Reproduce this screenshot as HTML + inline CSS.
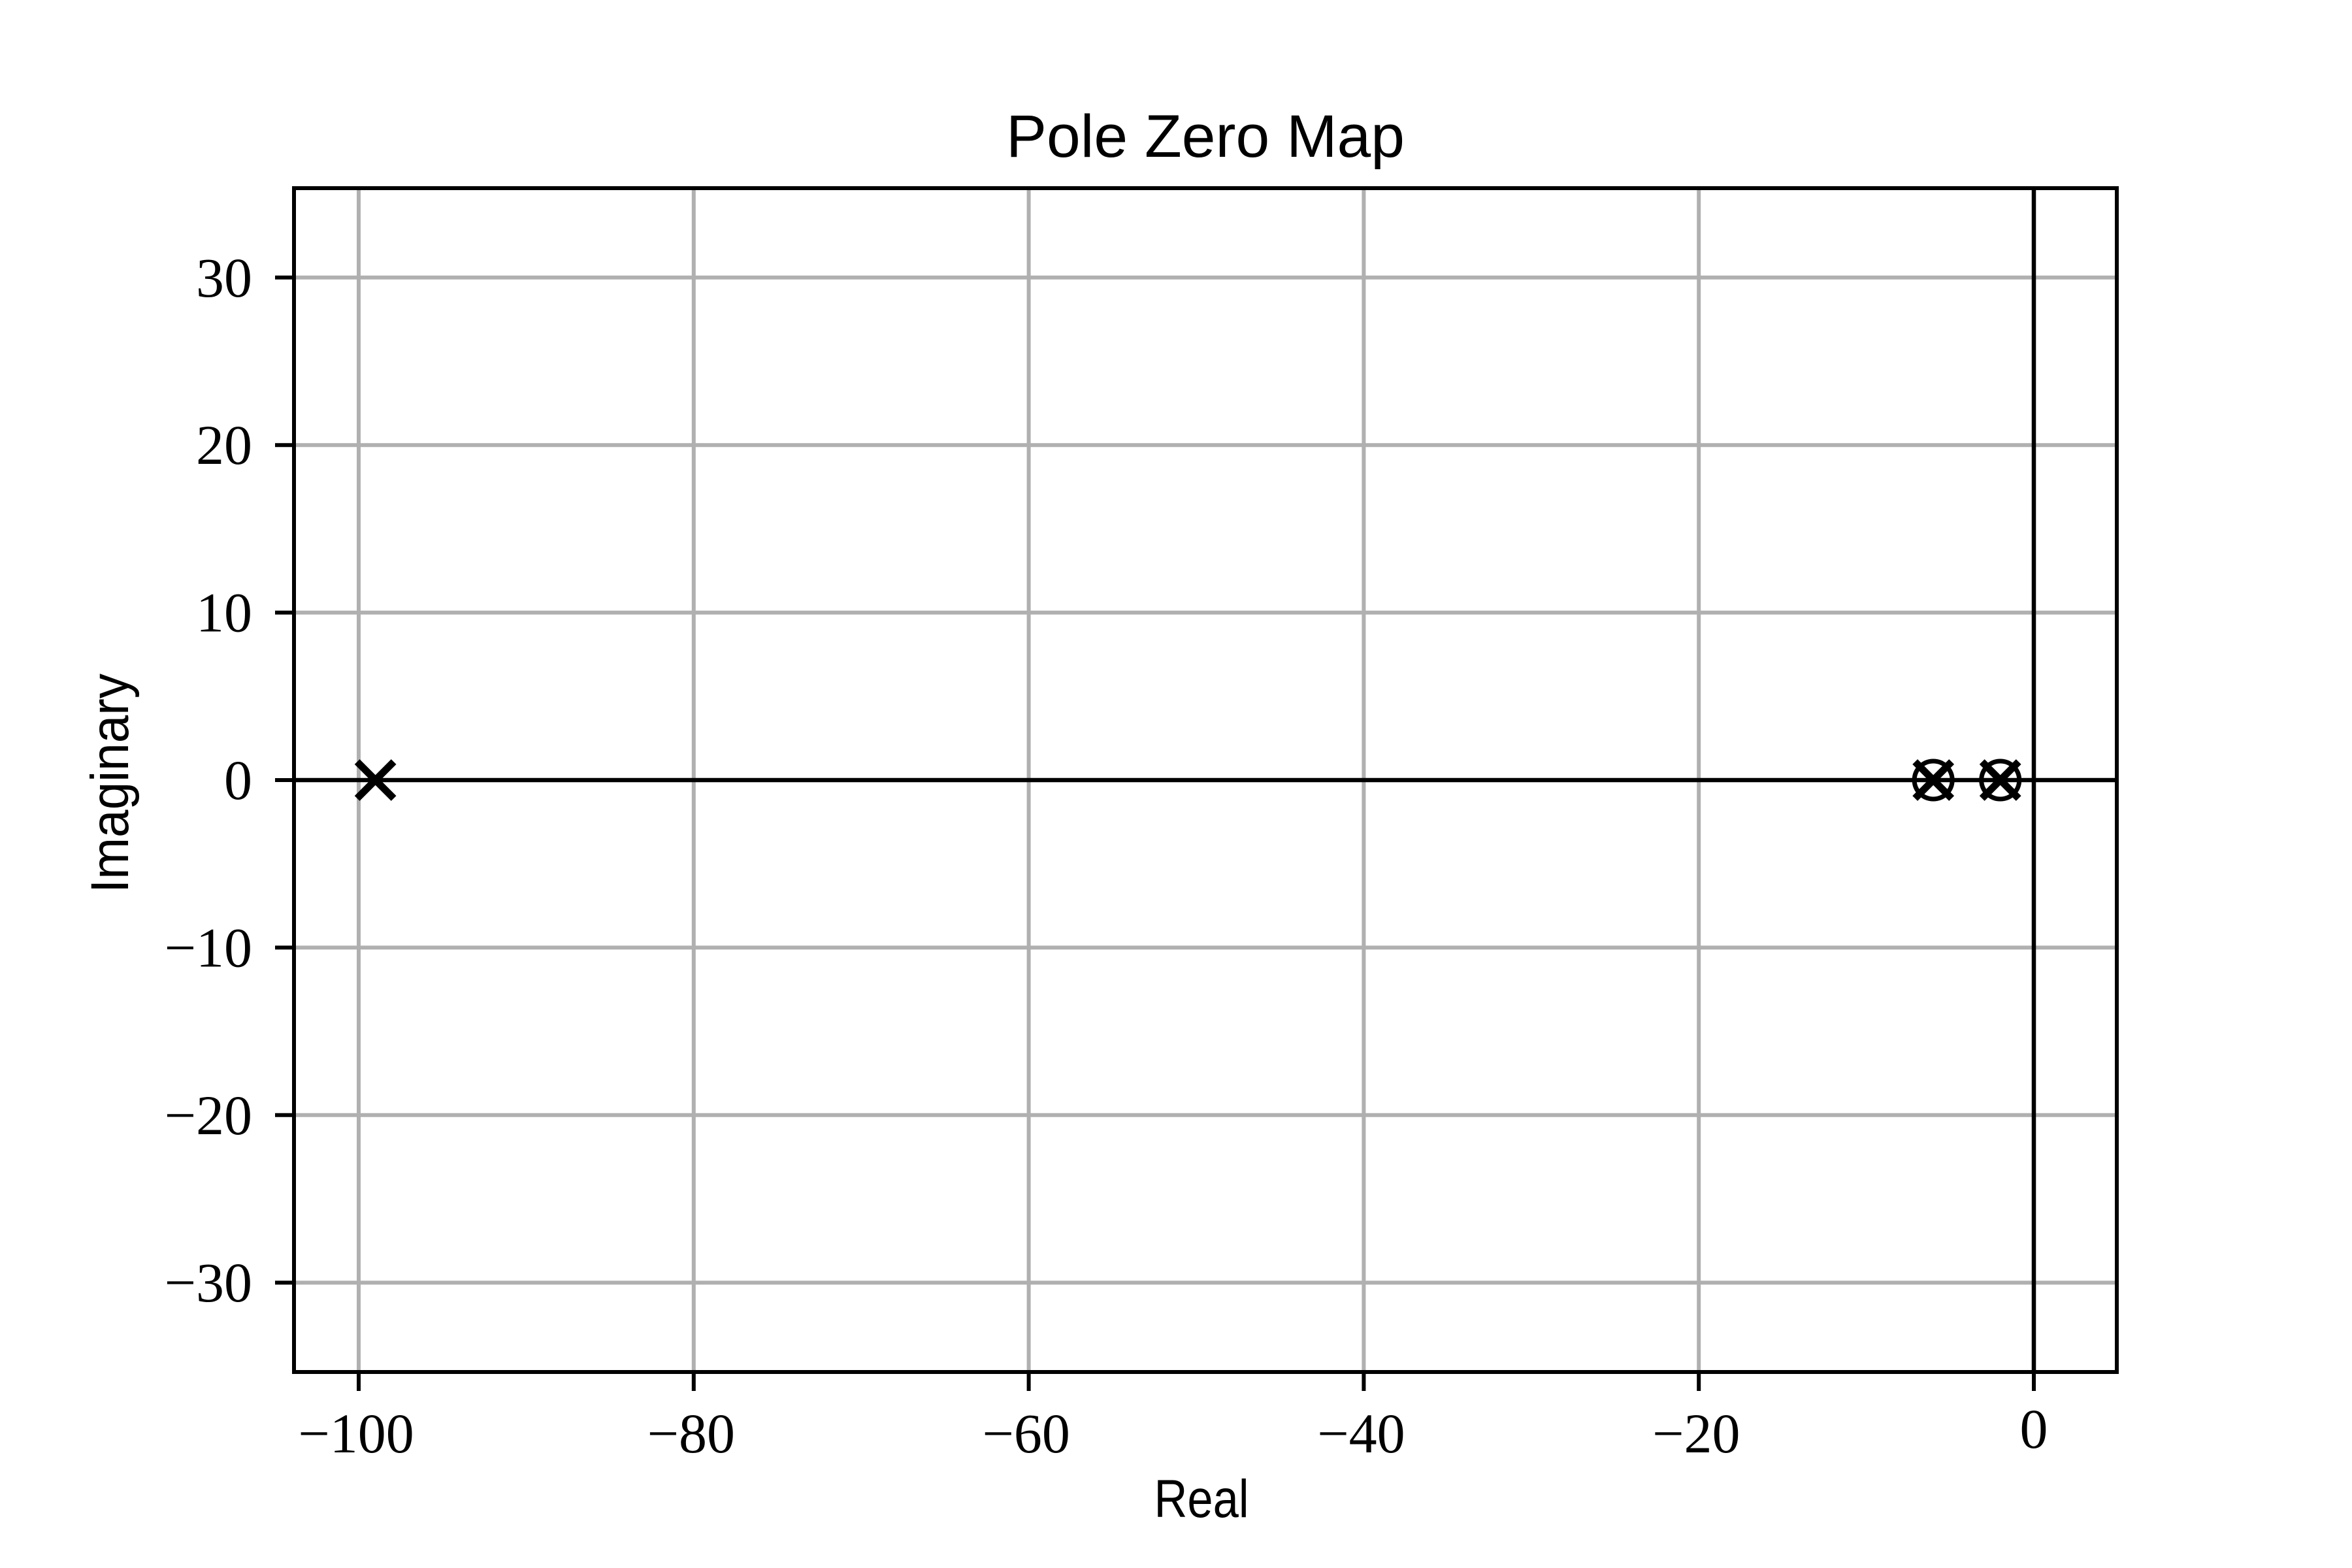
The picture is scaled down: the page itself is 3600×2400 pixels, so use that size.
<!DOCTYPE html>
<html><head><meta charset="utf-8"><style>
html,body{margin:0;padding:0;background:#fff;}
svg{display:block;}
.tk{font-family:"Liberation Serif",serif;font-size:86px;fill:#000;}
.sans{font-family:"Liberation Sans","DejaVu Sans",sans-serif;fill:#000;}
</style></head><body>
<svg id="chart" width="3600" height="2400" viewBox="0 0 3600 2400" xmlns="http://www.w3.org/2000/svg">
<rect width="3600" height="2400" fill="#fff"/>
<g id="grid"></g>
<g id="axlines"></g>
<g id="marks"></g>
<rect x="450" y="288" width="2790" height="1812" fill="none" stroke="#000" stroke-width="6"/>
<g id="ticks"></g>
<text class="sans" x="1845" y="240" font-size="92" text-anchor="middle" textLength="610" lengthAdjust="spacingAndGlyphs">Pole Zero Map</text>
<text class="sans" x="1839" y="2322" font-size="82" text-anchor="middle" textLength="145" lengthAdjust="spacingAndGlyphs">Real</text>
<text class="sans" x="196" y="1199" font-size="82" text-anchor="middle" textLength="336" lengthAdjust="spacingAndGlyphs" transform="rotate(-90 196 1199)">Imaginary</text>
</svg>
<script>
const xTicks = [-100, -80, -60, -40, -20, 0];
const yTicks = [-30, -20, -10, 0, 10, 20, 30];
const poleReal = [-99, -6, -2];
const poleImag = [0, 0, 0];
const zeroReal = [-6, -2];
const zeroImag = [0, 0];

const X0 = 3113, Y0 = 1194, S = 25.64;
const L = 450, R = 3240, T = 288, B = 2100;
function sx(v){ return X0 + v * S; }
function sy(v){ return Y0 - v * S; }
const NS = 'http://www.w3.org/2000/svg';
function mk(tag, attrs, parent){
  const e = document.createElementNS(NS, tag);
  for (const k in attrs) e.setAttribute(k, attrs[k]);
  parent.appendChild(e);
  return e;
}
const grid = document.getElementById('grid');
const ticks = document.getElementById('ticks');
const fmt = v => (v < 0 ? '\u2212' + Math.abs(v) : String(v));

xTicks.forEach(v => {
  const x = sx(v);
  const g = mk('line', {x1:x, x2:x, y1:T, y2:B, stroke:'#b0b0b0', 'stroke-width':6}, grid);
  
  
  const t = mk('line', {x1:x, x2:x, y1:B, y2:B+29, stroke:'#000', 'stroke-width':6}, ticks);
  
  
  const lb = mk('text', {x:x - (v < 0 ? 4 : 0), y: v < 0 ? 2223 : 2216, 'text-anchor':'middle', class:'tk'}, ticks);
  lb.textContent = fmt(v);
  
  
});
yTicks.forEach(v => {
  const y = sy(v);
  const g = mk('line', {x1:L, x2:R, y1:y, y2:y, stroke:'#b0b0b0', 'stroke-width':6}, grid);
  
  
  const t = mk('line', {x1:L-29, x2:L, y1:y, y2:y, stroke:'#000', 'stroke-width':6}, ticks);
  
  
  const lb = mk('text', {x:386, y:y + 29, 'text-anchor':'end', class:'tk'}, ticks);
  lb.textContent = fmt(v);
  
  
});
const ax = document.getElementById('axlines');
const h = mk('line', {x1:L, x2:R, y1:sy(0), y2:sy(0), stroke:'#000', 'stroke-width':6.5}, ax);


const vl = mk('line', {x1:sx(0), x2:sx(0), y1:T, y2:B, stroke:'#000', 'stroke-width':6.5}, ax);



const marks = document.getElementById('marks');
zeroReal.forEach((re, i) => {
  const c = mk('circle', {cx:sx(re), cy:sy(zeroImag[i]), r:29, fill:'none', stroke:'#000', 'stroke-width':7}, marks);
  
  
});
poleReal.forEach((re, i) => {
  const x = sx(re), y = sy(poleImag[i]), d = 28;
  const p = mk('path', {d:`M${x-d},${y-d}L${x+d},${y+d}M${x-d},${y+d}L${x+d},${y-d}`, stroke:'#000', 'stroke-width':11, fill:'none'}, marks);
  
  
});
</script>
</body></html>
